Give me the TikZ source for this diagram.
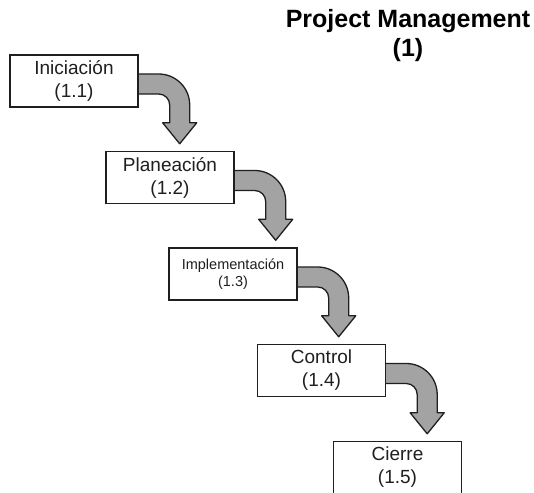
\documentclass[tikz,border=0pt]{standalone}
\usepackage{fontspec}
\setmainfont{Liberation Sans}
\usetikzlibrary{backgrounds,calc,positioning}
\definecolor{arrowgray}{rgb}{0.64,0.64,0.64}
\definecolor{linegray}{rgb}{0.12,0.12,0.12}
% bent block arrow from the right side of #1 down onto the top of #2
\newcommand{\bentarrow}[2]{%
\path[draw=linegray,line width=1.3pt,fill=arrowgray,line join=round]
  let \p1=(#1.east), \p2=(#2.north),
      \n1={\y1-4pt}, \n2={\x1+41pt}, \n3={\y2+7pt}, \n4={\y2+28pt} in
  (\x1-2pt,\n1+11pt) -- (\n2-21pt,\n1+11pt)
  arc[start angle=90,end angle=0,radius=31pt]
  -- (\n2+10pt,\n4+0pt) -- (\n2+17pt,\n4+0pt) -- (\n2+0pt,\n3+0pt)
  -- (\n2-17pt,\n4+0pt) -- (\n2-10pt,\n4+0pt) -- (\n2-10pt,\n1-20pt)
  arc[start angle=0,end angle=90,radius=11pt]
  -- (\x1-2pt,\n1-9pt) -- cycle;}

\begin{document}
\begin{tikzpicture}[x=1pt,y=1pt]
        \tikzstyle{phase}=[draw=linegray,line width=1.4pt,fill=white,%
          minimum width=128pt,minimum height=52pt,inner sep=0pt,%
          align=center,text=linegray,font=\fontsize{19}{23}\selectfont]
      \tikzstyle{title}=[align=center,font=\bfseries\fontsize{25}{29}\selectfont]

      \clip (0,0) rectangle (534,-492);

      \node[title] (T) at (408,-36) {Project Management\\(1)};

      \node[phase] (A) at (74,-81) {Iniciación\\(1.1)};
      \node[phase] (B) at (170,-177.5) {Planeación\\(1.2)};
      \node[phase,font=\fontsize{14.5}{17}\selectfont] (C) at (233,-274) {Implementación\\(1.3)};
      \node[phase] (D) at (321.5,-370.5) {Control\\(1.4)};
      \node[phase] (E) at (397.5,-467.5) {Cierre\\(1.5)};

      \begin{scope}[on background layer]
      \bentarrow{A}{B}
      \bentarrow{B}{C}
      \bentarrow{C}{D}
      \bentarrow{D}{E}
      \end{scope}
    \end{tikzpicture}
\end{document}
